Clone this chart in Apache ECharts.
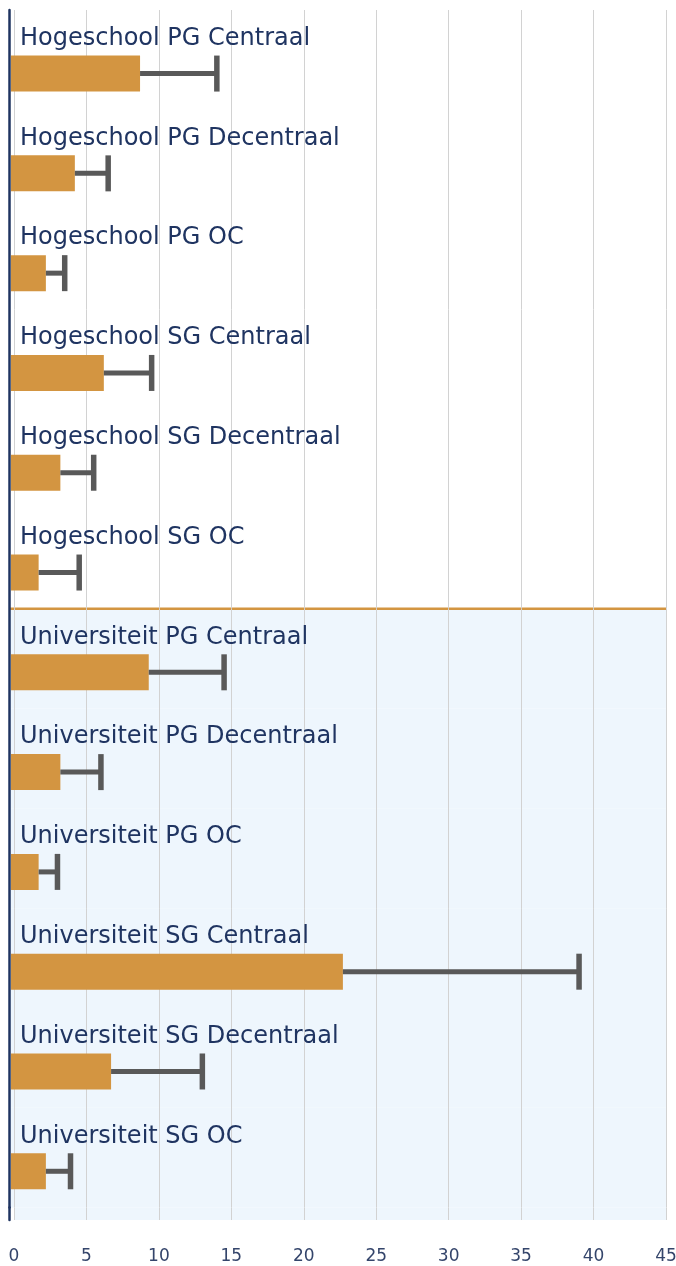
<!DOCTYPE html>
<html>
<head>
<meta charset="utf-8">
<script src="https://cdn.jsdelivr.net/npm/echarts@6/dist/echarts.min.js"></script>
<style>
  html, body { margin: 0; padding: 0; background: #ffffff; }
  #chart { width: 676px; height: 1266px; }
</style>
</head>
<body>
<div id="chart"></div>
<script>
const categories = [
  'Hogeschool PG Centraal',
  'Hogeschool PG Decentraal',
  'Hogeschool PG OC',
  'Hogeschool SG Centraal',
  'Hogeschool SG Decentraal',
  'Hogeschool SG OC',
  'Universiteit PG Centraal',
  'Universiteit PG Decentraal',
  'Universiteit PG OC',
  'Universiteit SG Centraal',
  'Universiteit SG Decentraal',
  'Universiteit SG OC'
];
const sectors = [
  'Hogeschool', 'Hogeschool', 'Hogeschool', 'Hogeschool', 'Hogeschool', 'Hogeschool',
  'Universiteit', 'Universiteit', 'Universiteit', 'Universiteit', 'Universiteit', 'Universiteit'
];
const meanValues  = [8.7, 4.2, 2.2, 6.2, 3.2, 1.7, 9.3, 3.2, 1.7, 22.7, 6.7, 2.2];
const upperValues = [14.0, 6.5, 3.5, 9.5, 5.5, 4.5, 14.5, 6.0, 3.0, 39.0, 13.0, 3.9];
const xTicks = [0, 5, 10, 15, 20, 25, 30, 35, 40, 45];

const NAVY = '#1f3461';
const BAR = '#d39541';
const ERR = '#595959';
const BG = '#eef6fd';
const GRIDLINE = '#d2d2d2';
const FONT = '"DejaVu Sans", sans-serif';
const BAR_H = 36;
const CAP_H = 36;
const SHIFT = 0.137;   // bar sits in lower part of its row
const AXIS_OFFSET = 5;

const chart = echarts.init(document.getElementById('chart'), null, { renderer: 'canvas' });

const rows = categories.map((c, i) => [i, meanValues[i], upperValues[i]]);
const bgRows = categories.map((c, i) => [i, sectors[i]]);

function renderBars(params, api) {
  const i = api.value(0);
  const mean = api.value(1);
  const up = api.value(2);
  const band = api.size([0, 1])[1];
  const c0 = api.coord([0, i]);
  const c1 = api.coord([mean, i]);
  const c2 = api.coord([up, i]);
  const yc = c0[1] + band * SHIFT;
  return {
    type: 'group',
    children: [
      { type: 'rect', shape: { x: c0[0] - 3, y: yc - BAR_H / 2, width: c1[0] - c0[0] + 3, height: BAR_H },
        style: { fill: BAR } },
      { type: 'line', shape: { x1: c1[0], y1: yc, x2: c2[0], y2: yc },
        style: { stroke: ERR, lineWidth: 5 } },
      { type: 'line', shape: { x1: c2[0], y1: yc - CAP_H / 2, x2: c2[0], y2: yc + CAP_H / 2 },
        style: { stroke: ERR, lineWidth: 5.5 } },
      { type: 'text',
        style: { text: categories[i], x: c0[0] + 6, y: yc - BAR_H / 2 - 17,
                 fill: NAVY, font: '24px ' + FONT,
                 align: 'left', verticalAlign: 'middle',
                 textAlign: 'left', textVerticalAlign: 'middle' } }
    ]
  };
}

function renderBackground(params, api) {
  const i = api.value(0);
  const band = api.size([0, 1])[1];
  const cL = api.coord([xTicks[0], i]);
  const cR = api.coord([xTicks[xTicks.length - 1], i]);
  const top = cL[1] - band / 2;
  const children = [];
  if (sectors[i] === 'Universiteit') {
    children.push({ type: 'rect',
      shape: { x: cL[0] - AXIS_OFFSET, y: top, width: cR[0] - cL[0] + AXIS_OFFSET, height: band },
      style: { fill: BG } });
  }
  if (i > 0 && sectors[i] !== sectors[i - 1]) {
    children.push({ type: 'line',
      shape: { x1: cL[0] - AXIS_OFFSET, y1: top, x2: cR[0], y2: top },
      style: { stroke: BAR, lineWidth: 2.5 }, z2: 10 });
  }
  return { type: 'group', children };
}

const option = {
  animation: false,
  backgroundColor: '#ffffff',
  grid: [
    { left: 14, right: 10, top: 10, bottom: 58.5, containLabel: false, outerBoundsMode: 'none' },
    { left: 14, right: 10, top: 1207.5, height: 12.5, show: true, backgroundColor: BG, borderWidth: 0,
      containLabel: false, outerBoundsMode: 'none' }
  ],
  xAxis: [
    { gridIndex: 0, type: 'value', min: xTicks[0], max: xTicks[xTicks.length - 1], interval: 5,
      axisLine: { show: false }, axisTick: { show: false }, axisLabel: { show: false },
      splitLine: { show: true, lineStyle: { color: GRIDLINE, width: 1 } } },
    { gridIndex: 1, type: 'value', min: xTicks[0], max: xTicks[xTicks.length - 1], interval: 5,
      axisLine: { show: false }, axisTick: { show: false },
      axisLabel: { show: true, margin: 28, color: '#34456b', fontSize: 17, fontFamily: FONT },
      splitLine: { show: true, lineStyle: { color: GRIDLINE, width: 1 } } }
  ],
  yAxis: [
    { gridIndex: 0, type: 'category', data: categories, inverse: true, position: 'left', offset: AXIS_OFFSET,
      axisLine: { show: true, onZero: false, lineStyle: { color: NAVY, width: 2.5 } },
      axisTick: { show: false }, axisLabel: { show: false }, splitLine: { show: false } },
    { gridIndex: 1, type: 'category', data: [''], position: 'left', offset: AXIS_OFFSET,
      axisLine: { show: true, onZero: false, lineStyle: { color: NAVY, width: 2.5 } },
      axisTick: { show: false }, axisLabel: { show: false }, splitLine: { show: false } }
  ],
  series: [
    { type: 'custom', name: 'background', xAxisIndex: 0, yAxisIndex: 0, z: -5, silent: true,
      renderItem: renderBackground, data: bgRows, encode: { x: -1, y: 0 } },
    { type: 'custom', name: 'values', xAxisIndex: 0, yAxisIndex: 0, z: 5,
      renderItem: renderBars, data: rows, encode: { x: [1, 2], y: 0 } }
  ]
};
chart.setOption(option);
</script>
</body>
</html>
